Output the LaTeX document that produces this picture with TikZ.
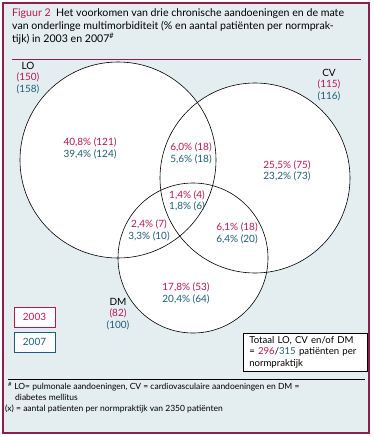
\documentclass[tikz,border=0pt]{standalone}
\usepackage{fontspec}
\setmainfont{Lato}
\definecolor{rood}{HTML}{B8194D}
\definecolor{blauw}{HTML}{1E5E78}
\definecolor{kader}{HTML}{8E1F4C}
\definecolor{achter}{HTML}{E4EEF1}
\newcommand{\paar}[2]{{\color{rood}#1}\\{\color{blauw}#2}}
\begin{document}
\begin{tikzpicture}[x=1pt,y=-1pt,
    every node/.style={inner sep=0pt,font=\fontsize{10}{11.5}\selectfont},
    cirkel/.style={draw=black,line width=0.6pt},
    jaar/.style={draw,line width=0.8pt,minimum width=41pt,minimum height=20pt}]
  \useasboundingbox (0,0) rectangle (373,437);
  \fill[achter] (3,3) rectangle (369,433);
  \draw[kader,line width=1.2pt] (3,3) rectangle (369,433);
  % titel
  \node[anchor=north west,align=left,font=\fontsize{10.6}{12.8}\selectfont] (titel) at (12,8.5)
    {{\color{rood}Figuur 2}\ \ Het voorkomen van drie chronische aandoeningen en de mate\\
     van onderlinge multimorbiditeit (\% en aantal patiënten per normprak-\\
     tijk) in 2003 en 2007\textsuperscript{\#}};
  \draw[kader,line width=0.8pt] (12,59) -- (361,59);
  % cirkels
  \coordinate (lo) at (118,160);
  \coordinate (cv) at (255,178);
  \coordinate (dm) at (193,258);
  \fill[white] (lo) circle (98) (cv) circle (95) (dm) circle (75);
  \begin{scope}[cirkel]
    \draw (lo) circle (98);
    \draw (cv) circle (95);
    \draw (dm) circle (75);
  \end{scope}
  % namen
  \node[align=center] (lonaam) at (28,78) {LO\\{\color{rood}(150)}\\{\color{blauw}(158)}};
  \node[align=center] (cvnaam) at (329,85) {CV\\{\color{rood}(115)}\\{\color{blauw}(116)}};
  \node[align=center] (dmnaam) at (118,314) {DM\\{\color{rood}(82)}\\{\color{blauw}(100)}};
  % percentages
  \node[align=center] (r1) at (90,148.5) {\paar{40,8\% (121)}{39,4\% (124)}};
  \node[align=center] (r2) at (191,153.5) {\paar{6,0\% (18)}{5,6\% (18)}};
  \node[align=center] (r3) at (287,171) {\paar{25,5\% (75)}{23,2\% (73)}};
  \node[align=center] (r4) at (187,201) {\paar{1,4\% (4)}{1,8\% (6)}};
  \node[align=center] (r5) at (149,230.5) {\paar{2,4\% (7)}{3,3\% (10)}};
  \node[align=center] (r6) at (237,233.5) {\paar{6,1\% (18)}{6,4\% (20)}};
  \node[align=center] (r7) at (186,293.5) {\paar{17,8\% (53)}{20,4\% (64)}};
  % legenda
  \node[jaar,draw=rood,text=rood,fill=white] (j2003) at (34.5,317) {2003};
  \node[jaar,draw=blauw,text=blauw,fill=white] (j2007) at (34.5,342) {2007};
  \node[draw,fill=white,line width=0.6pt,anchor=north west,align=left,
    inner xsep=6pt,inner ysep=3pt,text width=112pt,
    font=\fontsize{9.6}{11.5}\selectfont] (totaal) at (243,333)
    {Totaal LO, CV en/of DM\\
     = {\color{rood}296}/{\color{blauw}315} patiënten per\\
     normpraktijk};
  % voetnoot
  \draw[line width=0.6pt] (8,379) -- (365,379);
  \node[anchor=north west,align=left,font=\fontsize{8.5}{11}\selectfont] (noot) at (5,382)
    {\hspace*{3pt}\textsuperscript{\#}\ LO= pulmonale aandoeningen, CV = cardiovasculaire aandoeningen en DM =\\
     \hspace*{10pt}diabetes mellitus\\
     (x) = aantal patienten per normpraktijk van 2350 patiënten};
\end{tikzpicture}
\end{document}
